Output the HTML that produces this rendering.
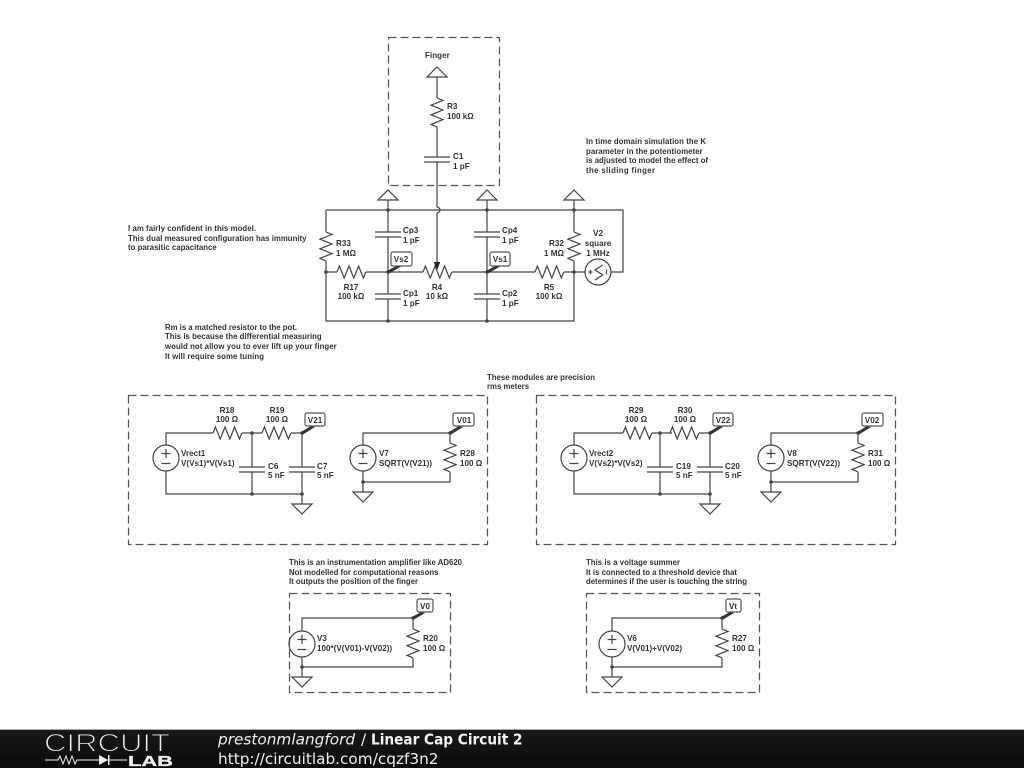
<!DOCTYPE html>
<html><head><meta charset="utf-8"><style>
html,body{margin:0;padding:0;background:#fff;width:1024px;height:768px;overflow:hidden}
svg{display:block}
.dia{filter:blur(.3px)}
.w{fill:none;stroke:#444;stroke-width:1.2}
.d{fill:none;stroke:#555;stroke-width:1.25;stroke-dasharray:8 4}
.t{font:bold 8.1px "Liberation Sans",sans-serif;fill:#333}
.o{font-size:7.8px}
.m{text-anchor:middle}
.tag{fill:#fff;stroke:#555;stroke-width:1.2}
.n{fill:#444;stroke:none}
</style></head><body>
<svg width="1024" height="768" viewBox="0 0 1024 768" xmlns="http://www.w3.org/2000/svg">
<defs>
<path id="r" class="w" d="M0 0l2.4 -6l4.8 12l4.8 -12l4.8 12l4.8 -12l4.800 12l2.400 -6"/>
<g id="c"><path class="w" d="M-13 0H13M-13 5H13"/></g>
<g id="up"><path class="w" d="M-10 10L0 0L10 10Z"/></g>
<g id="dn"><path class="w" d="M-10 0L0 10L10 0Z"/></g>
<g id="s"><circle class="w" r="13"/><path class="w" d="M-4.5 -4.5H4.5M0 -9V0M-4.5 5.5H4.5"/></g>
<linearGradient id="fb" x1="0" y1="0" x2="0" y2="1"><stop offset="0" stop-color="#181818"/><stop offset="1" stop-color="#0b0b0b"/></linearGradient>
</defs>
<g class="dia">
<!-- dashed boxes -->
<rect class="d" x="388.500" y="37.500" width="111" height="148"/>
<rect class="d" x="128.500" y="395.500" width="359" height="149"/>
<rect class="d" x="536.500" y="395.500" width="359" height="149"/>
<rect class="d" x="289.500" y="593.500" width="161" height="99"/>
<rect class="d" x="586.500" y="593.500" width="173" height="99"/>

<!-- finger -->
<use href="#up" x="437" y="67"/>
<path class="w" d="M437 77V98M437 127V157M437 162V207A3 3 0 0 1 437 213V263"/>
<use href="#r" transform="translate(437,98) rotate(90)"/>
<use href="#c" transform="translate(437,157)"/>
<path fill="#222" d="M433.800 262H440.200L437 270.500Z"/>

<!-- main circuit -->
<path class="w" d="M326 210H623V272H611M326 210V232M326 261V321H574V272M574 200V232M574 261V272M388 200V232M388 237V294M388 299V321M487 200V232M487 237V294M487 299V321M326 272H337M366 272H423M452 272H535M564 272H585"/>
<use href="#up" x="388" y="190"/>
<use href="#up" x="487" y="190"/>
<use href="#up" x="574" y="190"/>
<use href="#r" transform="translate(326,232) rotate(90)"/>
<use href="#r" transform="translate(574,232) rotate(90)"/>
<use href="#r" x="337" y="272"/>
<use href="#r" x="423" y="272"/>
<use href="#r" x="535" y="272"/>
<use href="#c" x="388" y="232"/>
<use href="#c" x="487" y="232"/>
<use href="#c" x="388" y="294"/>
<use href="#c" x="487" y="294"/>
<circle class="w" cx="598" cy="272" r="13"/>
<path class="w" d="M602.700 265L595 270L602.700 275L595 280M588.500 272H592.500M590.500 270V274M606.500 269.500V274.500"/>
<circle class="n" cx="388" cy="210" r="1.8"/><circle class="n" cx="487" cy="210" r="1.8"/><circle class="n" cx="574" cy="210" r="1.8"/>
<circle class="n" cx="326" cy="272" r="1.8"/><circle class="n" cx="388" cy="272" r="1.8"/><circle class="n" cx="487" cy="272" r="1.8"/><circle class="n" cx="574" cy="272" r="1.8"/>
<circle class="n" cx="388" cy="321" r="1.8"/><circle class="n" cx="487" cy="321" r="1.8"/>
<path fill="#333" d="M387 271L398 265L402 266L389 273.500ZM486 271L497 265L501 266L488 273.500Z"/>
<rect class="tag" x="391" y="252" width="21" height="14" rx="2"/>
<rect class="tag" x="490" y="252" width="20" height="14" rx="2"/>

<!-- left module -->
<path class="w" d="M166 445V433H213M242 433H262M291 433H302V467M302 472V494M252 433V467M252 472V494M166 471V494H302V504M363 445V433H450V443M450 472V482H363V471M363 482V492"/>
<use href="#r" x="213" y="433"/><use href="#r" x="262" y="433"/>
<use href="#r" transform="translate(450,443) rotate(90)"/>
<use href="#s" x="166" y="458"/><use href="#s" x="363" y="458"/>
<use href="#c" x="252" y="467"/><use href="#c" x="302" y="467"/>
<use href="#dn" x="302" y="504"/><use href="#dn" x="363" y="492"/>
<circle class="n" cx="252" cy="433" r="1.8"/><circle class="n" cx="302" cy="433" r="1.8"/><circle class="n" cx="252" cy="494" r="1.8"/><circle class="n" cx="302" cy="494" r="1.8"/><circle class="n" cx="450" cy="433" r="1.8"/><circle class="n" cx="363" cy="482" r="1.8"/>
<path fill="#333" d="M301 432L311 426L315 427L303 434.500ZM449 432L459 426L463 427L451 434.500Z"/>
<rect class="tag" x="305" y="413" width="20" height="13" rx="2"/>
<rect class="tag" x="453" y="413" width="21" height="13" rx="2"/>

<!-- right module -->
<g transform="translate(408,0)">
<path class="w" d="M166 445V433H215M244 433H264M291 433H302V467M302 472V494M252 433V467M252 472V494M166 471V494H302V504M363 445V433H450V443M450 472V482H363V471M363 482V492"/>
<use href="#r" x="215" y="433"/><use href="#r" x="262" y="433"/>
<use href="#r" transform="translate(450,443) rotate(90)"/>
<use href="#s" x="166" y="458"/><use href="#s" x="363" y="458"/>
<use href="#c" x="252" y="467"/><use href="#c" x="302" y="467"/>
<use href="#dn" x="302" y="504"/><use href="#dn" x="363" y="492"/>
<circle class="n" cx="252" cy="433" r="1.8"/><circle class="n" cx="302" cy="433" r="1.8"/><circle class="n" cx="252" cy="494" r="1.8"/><circle class="n" cx="302" cy="494" r="1.8"/><circle class="n" cx="450" cy="433" r="1.8"/><circle class="n" cx="363" cy="482" r="1.8"/>
<path fill="#333" d="M301 432L311 426L315 427L303 434.500ZM449 432L459 426L463 427L451 434.500Z"/>
<rect class="tag" x="305" y="413" width="20" height="13" rx="2"/>
<rect class="tag" x="454" y="413" width="21" height="13" rx="2"/>
</g>

<!-- amplifier -->
<path class="w" d="M302 631V618H413V629M413 658V667H302V657M302 667V677"/>
<use href="#r" transform="translate(413,629) rotate(90)"/>
<use href="#s" x="302" y="644"/>
<use href="#dn" x="302" y="677"/>
<circle class="n" cx="413" cy="618" r="1.8"/><circle class="n" cx="302" cy="667" r="1.8"/>
<path fill="#333" d="M412 617L421 612L425 613L414 619.500Z"/>
<rect class="tag" x="417" y="599" width="16" height="13" rx="2"/>

<!-- summer -->
<path class="w" d="M612 631V618H722V629M722 658V667H612V657M612 667V677"/>
<use href="#r" transform="translate(722,629) rotate(90)"/>
<use href="#s" x="612" y="644"/>
<use href="#dn" x="612" y="677"/>
<circle class="n" cx="722" cy="618" r="1.8"/><circle class="n" cx="612" cy="667" r="1.8"/>
<path fill="#333" d="M721 617L730 612L734 613L723 619.500Z"/>
<rect class="tag" x="726" y="599" width="15" height="13" rx="2"/>

<!-- labels -->
<text class="t" x="425" y="58">Finger</text>
<text class="t" x="447" y="109">R3</text><text class="t" x="447" y="119">100 kΩ</text>
<text class="t" x="453" y="159">C1</text><text class="t" x="453" y="169">1 pF</text>
<text class="t o" x="586" y="144" textLength="120">In time domain simulation the K</text>
<text class="t o" x="586" y="154" textLength="116.700">parameter in the potentiometer</text>
<text class="t o" x="586" y="163" textLength="122">is adjusted to model the effect of</text>
<text class="t o" x="586" y="173" textLength="69">the sliding finger</text>
<text class="t o" x="128" y="231" textLength="128">I am fairly confident in this model.</text>
<text class="t o" x="128" y="241" textLength="178.500">This dual measured configuration has immunity</text>
<text class="t o" x="128" y="250" textLength="88.700">to parasitic capacitance</text>
<text class="t o" x="165" y="330" textLength="132">Rm is a matched resistor to the pot.</text>
<text class="t o" x="165" y="339" textLength="156.700">This is because the differential measuring</text>
<text class="t o" x="165" y="349" textLength="171.700">would not allow you to ever lift up your finger</text>
<text class="t o" x="165" y="359" textLength="99">It will require some tuning</text>
<text class="t o" x="487" y="380" textLength="108">These modules are precision</text>
<text class="t o" x="487" y="389">rms meters</text>
<text class="t" x="336" y="246">R33</text><text class="t" x="336" y="256">1 MΩ</text>
<text class="t" x="403" y="233">Cp3</text><text class="t" x="403" y="243">1 pF</text>
<text class="t" x="502" y="233">Cp4</text><text class="t" x="502" y="243">1 pF</text>
<text class="t" x="549" y="246">R32</text><text class="t" x="544" y="256">1 MΩ</text>
<text class="t m" x="598" y="236">V2</text><text class="t m" x="598" y="246">square</text><text class="t m" x="598" y="256">1 MHz</text>
<text class="t m" x="351" y="290">R17</text><text class="t m" x="351" y="299">100 kΩ</text>
<text class="t m" x="437" y="290">R4</text><text class="t m" x="437" y="299">10 kΩ</text>
<text class="t m" x="549" y="290">R5</text><text class="t m" x="549" y="299">100 kΩ</text>
<text class="t" x="403" y="296">Cp1</text><text class="t" x="403" y="306">1 pF</text>
<text class="t" x="502" y="296">Cp2</text><text class="t" x="502" y="306">1 pF</text>
<text class="t m" x="401" y="262">Vs2</text><text class="t m" x="500" y="262">Vs1</text>

<text class="t m" x="227" y="413">R18</text><text class="t m" x="227" y="422">100 Ω</text>
<text class="t m" x="277" y="413">R19</text><text class="t m" x="277" y="422">100 Ω</text>
<text class="t m" x="315" y="423">V21</text><text class="t m" x="464" y="423">V01</text>
<text class="t" x="181" y="456">Vrect1</text><text class="t" x="181" y="466">V(Vs1)*V(Vs1)</text>
<text class="t" x="268" y="469">C6</text><text class="t" x="268" y="478">5 nF</text>
<text class="t" x="317" y="469">C7</text><text class="t" x="317" y="478">5 nF</text>
<text class="t" x="379" y="456">V7</text><text class="t" x="379" y="466">SQRT(V(V21))</text>
<text class="t" x="460" y="456">R28</text><text class="t" x="460" y="466">100 Ω</text>

<text class="t m" x="636" y="413">R29</text><text class="t m" x="636" y="422">100 Ω</text>
<text class="t m" x="685" y="413">R30</text><text class="t m" x="685" y="422">100 Ω</text>
<text class="t m" x="723" y="423">V22</text><text class="t m" x="872" y="423">V02</text>
<text class="t" x="589" y="456">Vrect2</text><text class="t" x="589" y="466">V(Vs2)*V(Vs2)</text>
<text class="t" x="676" y="469">C19</text><text class="t" x="676" y="478">5 nF</text>
<text class="t" x="725" y="469">C20</text><text class="t" x="725" y="478">5 nF</text>
<text class="t" x="787" y="456">V8</text><text class="t" x="787" y="466">SQRT(V(V22))</text>
<text class="t" x="868" y="456">R31</text><text class="t" x="868" y="466">100 Ω</text>

<text class="t o" x="289" y="565">This is an instrumentation amplifier like AD620</text>
<text class="t o" x="289" y="575">Not modelled for computational reasons</text>
<text class="t o" x="289" y="584">It outputs the position of the finger</text>
<text class="t" x="317" y="641">V3</text><text class="t" x="317" y="651">100*(V(V01)-V(V02))</text>
<text class="t" x="423" y="641">R20</text><text class="t" x="423" y="651">100 Ω</text>
<text class="t m" x="425" y="609">V0</text>
<text class="t o" x="586" y="565" textLength="94">This is a voltage summer</text>
<text class="t o" x="586" y="575" textLength="151">It is connected to a threshold device that</text>
<text class="t o" x="586" y="584" textLength="161">determines if the user is touching the string</text>
<text class="t" x="627" y="641">V6</text><text class="t" x="627" y="651">V(V01)+V(V02)</text>
<text class="t" x="732" y="641">R27</text><text class="t" x="732" y="651">100 Ω</text>
<text class="t m" x="733" y="609">Vt</text>
</g>

<!-- footer -->
<rect x="0" y="729" width="1024" height="39" fill="url(#fb)"/>
<rect x="0" y="729" width="1024" height="1" fill="#aaa"/>
<text x="44" y="751.500" font-family="Liberation Sans, sans-serif" font-size="25" textLength="126" lengthAdjust="spacingAndGlyphs" fill="#eee" stroke="#151515" stroke-width="1.1" style="paint-order:fill stroke">CIRCUIT</text>
<path d="M45 760H58l2 -4l3 8l3 -8l3 8l3 -8l3 8l2 -4H127" fill="none" stroke="#eee" stroke-width="1"/>
<path d="M99 755V765L108 760Z" fill="#eee"/><rect x="108" y="755" width="1.500" height="10" fill="#eee"/>
<text x="128" y="766" font-family="Liberation Sans, sans-serif" font-weight="bold" font-size="15" textLength="45" lengthAdjust="spacingAndGlyphs" fill="#eee" stroke="#eee" stroke-width=".3">LAB</text>
<text x="218" y="744.500" font-family="DejaVu Sans, sans-serif" font-size="15.300" font-style="italic" fill="#eee">prestonmlangford</text>
<text x="361" y="744.500" font-family="DejaVu Sans, sans-serif" font-size="15.300" fill="#eee">/</text>
<text x="371" y="744.500" font-family="DejaVu Sans, sans-serif" font-size="15" font-weight="bold" textLength="151.500" lengthAdjust="spacingAndGlyphs" fill="#f4f4f4">Linear Cap Circuit 2</text>
<text x="218" y="764" font-family="DejaVu Sans, sans-serif" font-size="15.300" fill="#eee">http://circuitlab.com/cqzf3n2</text>
</svg>
</body></html>
